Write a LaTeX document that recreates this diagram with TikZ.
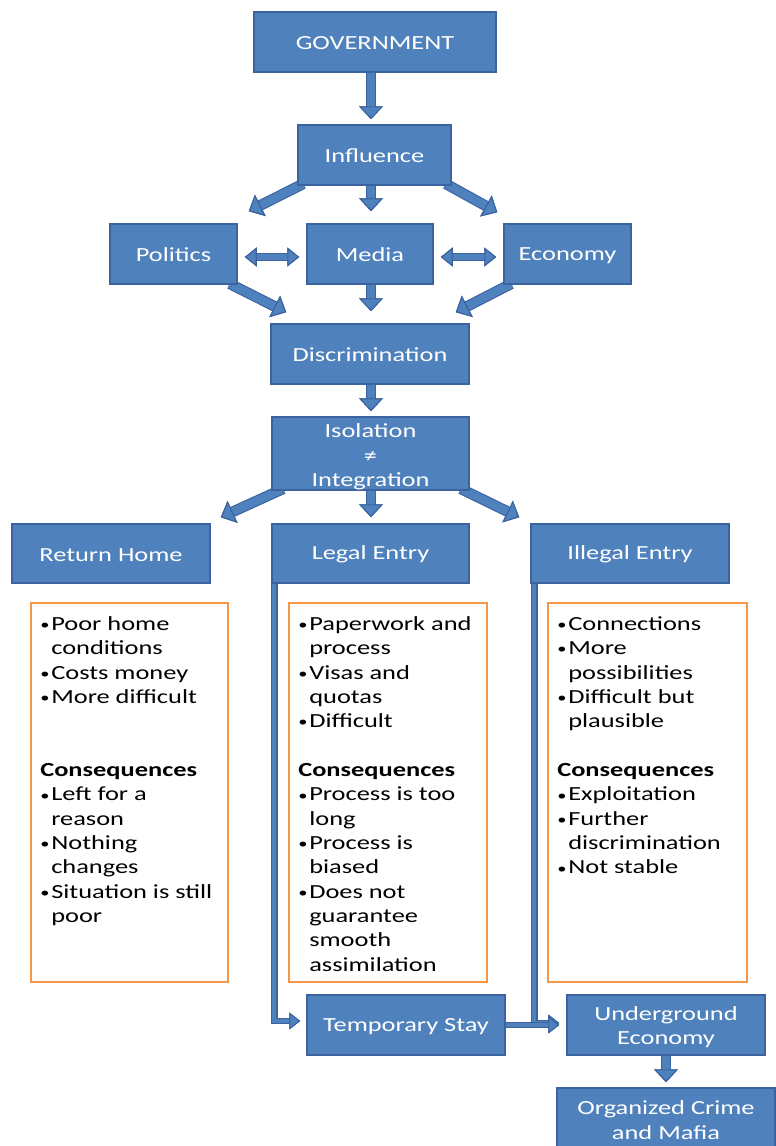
\documentclass[tikz,border=0pt]{standalone}
\usepackage{fontspec}
\newfontfamily\cf[FakeStretch=1.32]{Carlito}
\usetikzlibrary{arrows.meta,backgrounds}
\definecolor{bF}{HTML}{4F81BD}
\definecolor{bD}{HTML}{3A63A0}
\definecolor{oR}{HTML}{F79646}
\newcommand\lbul{\makebox[11pt][l]{\raisebox{0.8pt}{\fontsize{14}{14}\selectfont •}}}
\newcommand\lind{\hspace*{11pt}}
\newcommand\toprule[1]{\rule{0pt}{#1}}
\tikzset{
  bbox/.style={draw=bD, fill=bF, line width=1.5pt, text=white,
    font=\cf\fontsize{20}{24.5}\selectfont, align=center, inner sep=0pt,
    execute at begin node={\rule{0pt}{16pt}}},
  obox/.style={draw=oR, line width=1.8pt, fill=white, inner sep=0pt},
  listtext/.style={anchor=north west, align=left, inner sep=0pt,
    font=\cf\fontsize{20}{24.35}\selectfont, text=black},
  bigtip/.tip={Triangle[length=13pt,width=24pt,fill=bF,color=bD,line width=1.1pt]},
  midtip/.tip={Triangle[length=12pt,width=19pt,fill=bF,color=bD,line width=1.1pt]},
  smalltip/.tip={Triangle[length=11pt,width=17pt,fill=bF,color=bD,line width=1pt]},
  fat/.style={draw=bF, line width=8.5pt, arrows={-bigtip},
    preaction={draw=bD, line width=10.7pt, arrows={-bigtip}}},
  twoway/.style={draw=bF, line width=6pt, arrows={midtip-midtip},
    preaction={draw=bD, line width=8.2pt, arrows={midtip-midtip}}},
  slim/.style={draw=bF, line width=4.3pt, arrows={-smalltip},
    preaction={draw=bD, line width=6.5pt, arrows={-smalltip}}},
}
\begin{document}
\begin{tikzpicture}[x=1pt,y=-1pt]
\useasboundingbox (0,0) rectangle (776,1146);

% blue boxes
\node[bbox, minimum width=242pt, minimum height=60pt] (gov) at (375,42) {GOVERNMENT};
\node[bbox, minimum width=153pt, minimum height=60pt] (infl) at (374.5,155) {Influence};
\node[bbox, minimum width=127pt, minimum height=60pt] (pol) at (173.5,254) {Politics};
\node[bbox, minimum width=126pt, minimum height=60pt] (media) at (370,254) {Media};
\node[bbox, minimum width=127pt, minimum height=60pt] (econ) at (567.5,254) {Economy};
\node[bbox, minimum width=198pt, minimum height=60pt] (disc) at (370,354) {Discrimination};
\node[bbox, minimum width=197pt, minimum height=73pt] (iso) at (370.5,453.5) {\toprule{20.5pt}Isolation\\≠\\Integration};
\node[bbox, minimum width=198pt, minimum height=59pt] (ret) at (111,553.5) {Return Home};
\node[bbox, minimum width=197pt, minimum height=59pt] (legal) at (370.5,553.5) {Legal Entry};
\node[bbox, minimum width=198pt, minimum height=59pt] (illegal) at (630,553.5) {Illegal Entry};
\node[bbox, minimum width=198pt, minimum height=60pt] (temp) at (406,1025) {Temporary Stay};
\node[bbox, minimum width=198pt, minimum height=60pt] (under) at (666,1025) {\toprule{18.5pt}Underground\\Economy};
\node[bbox, minimum width=218pt, minimum height=62pt] (crime) at (666,1119) {\toprule{16.5pt}Organized Crime\\and Mafia};

% orange boxes
\node[obox, minimum width=197pt, minimum height=379pt] (ro) at (129.5,792.5) {};
\node[obox, minimum width=198pt, minimum height=379pt] (lo) at (388,792.5) {};
\node[obox, minimum width=199pt, minimum height=379pt] (io) at (647.5,792.5) {};

\node[listtext] (rot) at ([shift={(10,11)}]ro.north west) {\strut\lbul Poor home\\
\lind conditions\\
\lbul Costs money\\
\lbul More difficult\\[48.7pt]
\textbf{Consequences}\\
\lbul Left for a\\
\lind reason\\
\lbul Nothing\\
\lind changes\\
\lbul Situation is still\\
\lind poor};

\node[listtext] (lot) at ([shift={(10,11)}]lo.north west) {\strut\lbul Paperwork and\\
\lind process\\
\lbul Visas and\\
\lind quotas\\
\lbul Difficult\\[24.35pt]
\textbf{Consequences}\\
\lbul Process is too\\
\lind long\\
\lbul Process is\\
\lind biased\\
\lbul Does not\\
\lind guarantee\\
\lind smooth\\
\lind assimilation};

\node[listtext] (iot) at ([shift={(10,11)}]io.north west) {\strut\lbul Connections\\
\lbul More\\
\lind possibilities\\
\lbul Difficult but\\
\lind plausible\\[24.35pt]
\textbf{Consequences}\\
\lbul Exploitation\\
\lbul Further\\
\lind discrimination\\
\lbul Not stable};

% connectors
\begin{scope}[on background layer]
\draw[fat] ([xshift=-4]gov.south) -- ([xshift=-3.5]infl.north) [shorten >=5pt];
\draw[fat] ([xshift=-3.5]infl.south) -- ([xshift=1]media.north) [shorten >=12pt];
\draw[fat] ([shift={(6,-2)}]infl.south west) -- ([shift={(11,-12)}]pol.north east);
\draw[fat] ([shift={(-6,-2)}]infl.south east) -- ([shift={(-6,-11)}]econ.north west);
\draw[twoway] ([shift={(7,3)}]pol.east) -- ([shift={(-7,3)}]media.west);
\draw[twoway] ([shift={(7,3)}]media.east) -- ([shift={(-7,3)}]econ.west);
\draw[fat] ([shift={(-8,-1)}]pol.south east) -- ([shift={(16,-11)}]disc.north west);
\draw[fat] ([xshift=1]media.south) -- ([xshift=1]disc.north) [shorten >=12pt];
\draw[fat] ([shift={(8,-1)}]econ.south west) -- ([shift={(-14,-11)}]disc.north east);
\draw[fat] ([xshift=1]disc.south) -- ([xshift=0.5]iso.north) [shorten >=5pt];
\draw[fat] ([shift={(12,-2)}]iso.south west) -- ([shift={(10,-6)}]ret.north east);
\draw[fat] ([xshift=0.5]iso.south) -- ([xshift=0.5]legal.north) [shorten >=6pt];
\draw[fat] ([shift={(-9,-2)}]iso.south east) -- ([shift={(-11,-6)}]illegal.north west);
\draw[slim] ([xshift=3]legal.south west) |- ([shift={(-6,-4)}]temp.west);
\draw[slim] ([xshift=4]illegal.south west) |- ([shift={(-7,-2)}]under.west);
\draw[slim] (temp.east) -- ([xshift=-7]under.west);
\draw[fat] (under.south) -- (crime.north) [shorten >=5pt];
\end{scope}
\end{tikzpicture}
\end{document}
